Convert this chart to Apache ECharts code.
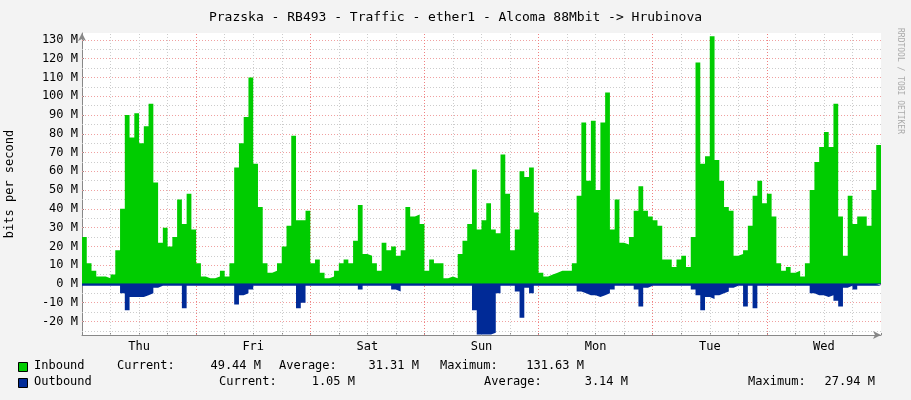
<!DOCTYPE html>
<html><head><meta charset="utf-8">
<script src="https://cdn.jsdelivr.net/npm/echarts@6/dist/echarts.min.js"></script>
<style>html,body{margin:0;padding:0;background:#f3f3f3}#c{width:911px;height:400px}</style>
</head><body><div id="c"></div>
<script>
const title = 'Prazska - RB493 - Traffic - ether1 - Alcoma 88Mbit -> Hrubinova';
const dayLabels = ['Thu','Fri','Sat','Sun','Mon','Tue','Wed'];
const yTicks = [-20,-10,0,10,20,30,40,50,60,70,80,90,100,110,120,130];
// hourly inbound, Mbit/s (Thu 00:00 .. Wed 24:00)
const inbound = [
25,11,7,4,4,3,5,18,40,90,78,91,75,84,96,54,22,30,20,25,45,32,48,29,
11,4,3,3,4,7,4,11,62,75,89,110,64,41,11,6,7,11,20,31,79,34,34,39,
11,13,6,3,4,7,11,13,11,23,42,16,15,11,7,22,18,20,15,18,41,36,37,32,
7,13,11,11,3,4,3,16,23,32,61,29,34,43,29,27,69,48,18,29,60,57,62,38,
6,4,5,6,7,7,7,11,47,86,55,87,50,86,102,29,45,22,21,25,39,52,39,36,
34,31,13,13,9,13,15,9,25,118,64,68,132,66,55,41,39,15,16,18,31,47,55,43,
48,36,11,7,9,6,7,4,11,50,65,73,81,73,96,36,15,47,32,36,36,31,50,74,
50];
// hourly outbound, Mbit/s (drawn below zero)
const outbound = [
1,1,1,1,1,1,1,1,5,14,7,7,7,6,5,2,1,1,1,1,1,13,1,1,
1,1,1,1,1,1,1,1,11,6,5,3,1,1,1,1,1,1,1,1,1,13,10,1,
1,1,1,1,1,1,1,1,1,1,3,1,1,1,1,1,1,3,4,1,1,1,1,1,
1,1,1,1,1,1,1,1,1,1,14,27,27,27,26,5,1,1,1,4,18,2,5,1,
1,1,1,1,1,1,1,1,4,5,6,6,7,6,5,3,1,1,1,1,3,12,2,1,
1,1,1,1,1,1,1,1,3,6,14,7,8,6,5,4,2,1,1,12,1,13,1,1,
1,1,1,1,1,1,1,1,1,5,6,6,7,6,9,12,2,1,3,1,1,1,1,1,
1];
const inStats = ['49.44 M','31.31 M','131.63 M'];
const outStats = ['1.05 M','3.14 M','27.94 M'];

const F = 'DejaVu Sans Mono';
const hoursIn = inbound.map((v,i)=>[i,v]);
const hoursOut = outbound.map((v,i)=>[i,-v]);
const gridY = []; for (let v=-25; v<=130; v+=5) gridY.push({yAxis:v, lineStyle:{color: v%10===0 ? '#f0a0a0' : '#cccccc'}});
const gridX = []; for (let h=6; h<168; h+=6) gridX.push({xAxis:h, lineStyle:{color: h%24===0 ? '#f08080' : '#cccccc'}});

const chart = echarts.init(document.getElementById('c'));
const t = (x,y,s,align)=>({type:'text',left:align==='right'?undefined:x,right:align==='right'?911-x:undefined,top:y,style:{text:s,font:'12px "'+F+'"',fill:'#000'}});
chart.setOption({
  animation:false,
  backgroundColor:'#f3f3f3',
  title:{text:title,left:'center',top:6,textStyle:{fontFamily:F,fontSize:13,fontWeight:'normal',color:'#000'}},
  grid:{left:82,right:30,top:33,bottom:65,show:true,backgroundColor:'#fff',borderWidth:0,containLabel:false,outerBoundsMode:'none'},
  xAxis:{type:'value',min:0,max:168,
    axisLine:{onZero:false,lineStyle:{color:'#888'},symbol:['none','arrow'],symbolSize:[6,8]},
    axisTick:{customValues:[0,6,12,18,24,30,36,42,48,54,60,66,72,78,84,90,96,102,108,114,120,126,132,138,144,150,156,162,168],length:-2,lineStyle:{color:'#888'}},
    splitLine:{show:false},
    axisLabel:{customValues:[12,36,60,84,108,132,156],formatter:v=>dayLabels[Math.round((v-12)/24)],fontFamily:F,fontSize:12,color:'#000',margin:6}},
  yAxis:{type:'value',min:-27.2,max:133.7,
    axisLine:{show:true,lineStyle:{color:'#888'},symbol:['none','arrow'],symbolSize:[6,8]},
    axisTick:{customValues:yTicks,length:-2,lineStyle:{color:'#888'}},
    splitLine:{show:false},
    axisLabel:{customValues:yTicks,formatter:v=>v+' M',fontFamily:F,fontSize:12,color:'#000',margin:4},
    name:'bits per second',nameLocation:'middle',nameGap:66,nameRotate:90,
    nameTextStyle:{fontFamily:F,fontSize:12,color:'#000'}},
  series:[
    {type:'line',step:'end',data:hoursIn,showSymbol:false,lineStyle:{width:0},areaStyle:{color:'#00cc00',opacity:1},z:3,
      markLine:{silent:true,symbol:'none',label:{show:false},lineStyle:{type:[1,2],width:1},data:gridY.concat(gridX),z:1}},
    {type:'line',step:'end',data:hoursOut,showSymbol:false,lineStyle:{width:0},areaStyle:{color:'#002a97',opacity:1},z:4},
    {type:'line',data:[[0,0],[168,0]],showSymbol:false,lineStyle:{width:1,color:'#002a97'},z:5}
  ],
  graphic:[
    {type:'rect',left:18,top:362,shape:{width:9,height:9},style:{fill:'#00cc00',stroke:'#000',lineWidth:1}},
    {type:'rect',left:18,top:378,shape:{width:9,height:9},style:{fill:'#002a97',stroke:'#000',lineWidth:1}},
    t(34,360,'Inbound'), t(117,360,'Current:'), t(261,360,inStats[0],'right'),
    t(279,360,'Average:'), t(419,360,inStats[1],'right'), t(440,360,'Maximum:'), t(584,360,inStats[2],'right'),
    t(34,376,'Outbound'), t(219,376,'Current:'), t(355,376,outStats[0],'right'),
    t(484,376,'Average:'), t(628,376,outStats[1],'right'), t(748,376,'Maximum:'), t(875,376,outStats[2],'right'),
    {type:'text',left:896,top:28,rotation:-Math.PI/2,style:{text:'RRDTOOL / TOBI OETIKER',font:'8px "'+F+'"',fill:'#aaa'}}
  ]
});
</script></body></html>
